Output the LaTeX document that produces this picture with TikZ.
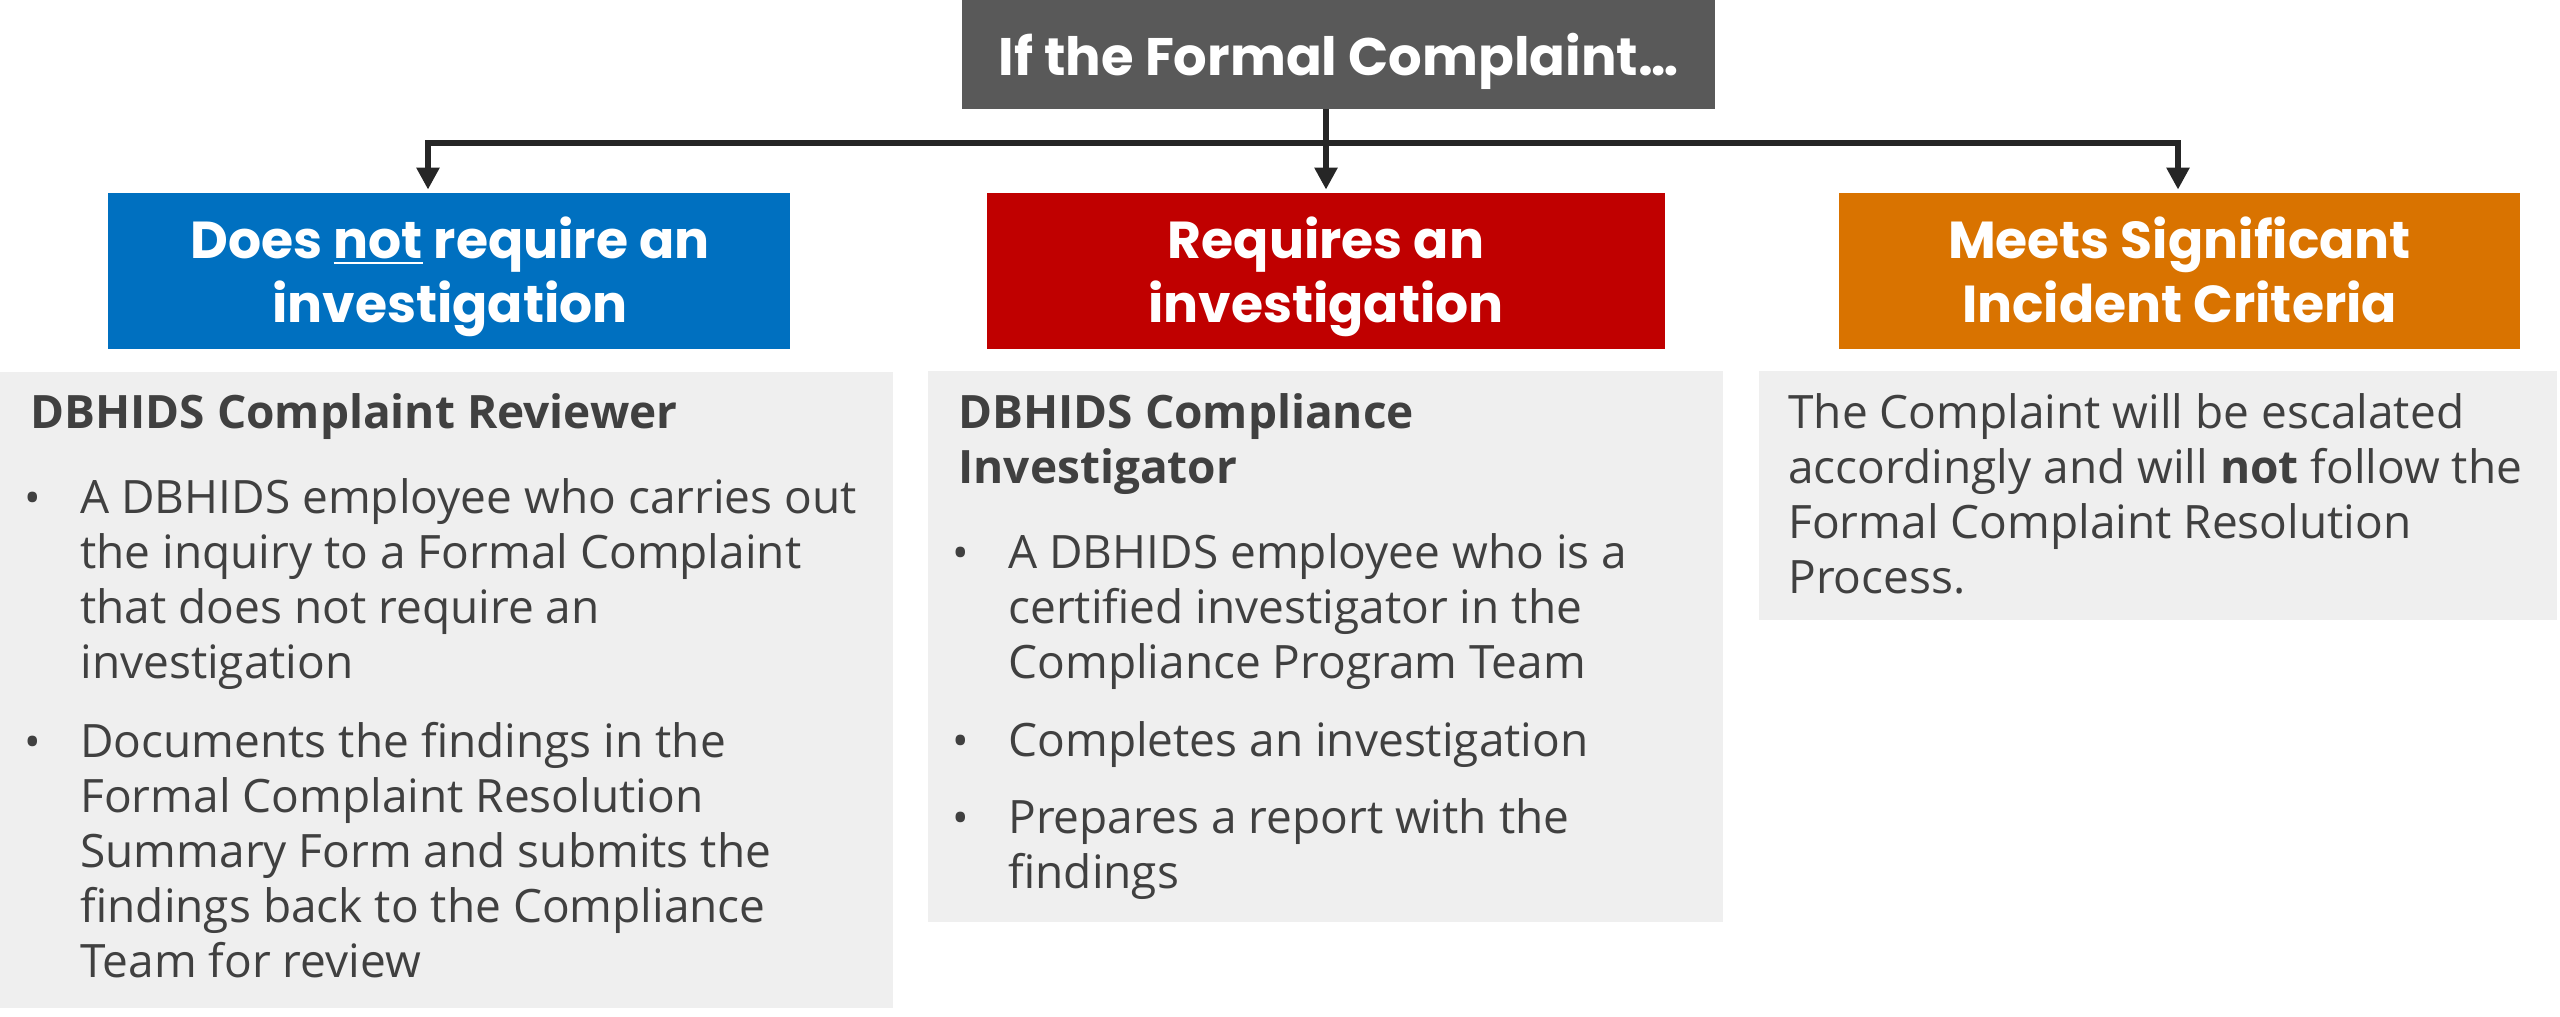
\documentclass[tikz,border=0pt]{standalone}
\usepackage{fontspec}
\setmainfont{Open Sans}
\newfontfamily\hdfont{Poppins}
\usetikzlibrary{arrows.meta}
\definecolor{topgray}{HTML}{595959}
\definecolor{dbblue}{HTML}{0070C0}
\definecolor{dbred}{HTML}{C00000}
\definecolor{dborange}{HTML}{D97300}
\definecolor{panel}{HTML}{EFEFEF}
\definecolor{txt}{HTML}{404040}
\definecolor{linec}{HTML}{262626}
\newcommand\myul[1]{\setbox0\hbox{#1}\rlap{\rule[-3.2pt]{\wd0}{1.3pt}}\box0\relax}
\tikzset{
  hbox/.style={inner sep=0, minimum height=78pt},
  panelbox/.style={fill=panel, inner sep=0},
  conn/.style={draw=linec, line width=3pt},
  toptxt/.style={font=\hdfont\bfseries\fontsize{26.4}{32}\selectfont, text=white, anchor=base, inner sep=0},
  htxt/.style={font=\hdfont\bfseries\fontsize{26}{32}\selectfont, text=white, anchor=base, inner sep=0, align=center},
  bhead/.style={font=\bfseries\fontsize{23}{27.5}\selectfont, text=txt, anchor=base west, inner sep=0, align=left},
  btxt/.style={font=\fontsize{23}{27.5}\selectfont, text=txt, anchor=base west, inner sep=0, align=left},
  bul/.style={font=\fontsize{22}{27.5}\selectfont, text=txt, anchor=base, inner sep=0},
}
\begin{document}
\begin{tikzpicture}[x=0.5pt,y=-0.5pt]
\useasboundingbox (0,0) rectangle (2560,1017);
% top box
\node[fill=topgray, inner sep=0, minimum width=376.5pt, minimum height=54.5pt] (top) at (1338.5,54.5) {};
\node[toptxt] (toptext) at (1338.5,75) {If the Formal Complaint…};
% category boxes
\node[hbox, fill=dbblue, minimum width=341pt] (blue) at (449,271) {};
\node[hbox, fill=dbred, minimum width=339pt] (red) at (1326,271) {};
\node[hbox, fill=dborange, minimum width=340.5pt] (orange) at (2179.5,271) {};
% (base anchor of a multi-line node = baseline of its last line)
\node[htxt] (bluetext) at (450,322) {Does \myul{not} require an\\investigation};
\node[htxt] (redtext) at (1326,322) {Requires an\\investigation};
\node[htxt] (orangetext) at (2179.5,322) {Meets Significant\\Incident Criteria};
% connectors
\coordinate (hl) at (428,143);
\coordinate (hr) at (2178,143);
\draw[conn, {Triangle[length=11pt,width=11pt]}-{Triangle[length=11pt,width=11pt]}, shorten <=1.5pt, shorten >=1.5pt]
  (hl |- blue.north) -- (hl) -- (hr) -- (hr |- orange.north);
\draw[conn, -{Triangle[length=11pt,width=11pt]}, shorten >=1.5pt] (top.south -| red.north) -- (red.north);
% panels
\node[panelbox, minimum width=446.5pt, minimum height=318pt] (p1) at (446.5,689.5) {};
\node[panelbox, minimum width=397.5pt, minimum height=275.5pt] (p2) at (1325.5,646.5) {};
\node[panelbox, minimum width=399pt, minimum height=124.5pt] (p3) at (2158,495.5) {};
% panel 1
\node[bhead] (p1h) at (30,428) {DBHIDS Complaint Reviewer};
\node[bul] (p1b1) at (33,513) {•};
\node[btxt] (p1t1) at (80,678) {A DBHIDS employee who carries out\\the inquiry to a Formal Complaint\\that does not require an\\investigation};
\node[bul] (p1b2) at (33,757) {•};
\node[btxt] (p1t2) at (80,977) {Documents the findings in the\\Formal Complaint Resolution\\Summary Form and submits the\\findings back to the Compliance\\Team for review};
% panel 2
\node[bhead] (p2h) at (958,483) {DBHIDS Compliance\\Investigator};
\node[bul] (p2b1) at (961,568) {•};
\node[btxt] (p2t1) at (1008,678) {A DBHIDS employee who is a\\certified investigator in the\\Compliance Program Team};
\node[bul] (p2b2) at (961,756) {•};
\node[btxt] (p2t2) at (1008,756) {Completes an investigation};
\node[bul] (p2b3) at (961,833) {•};
\node[btxt] (p2t3) at (1008,888) {Prepares a report with the\\findings};
% panel 3
\node[btxt] (p3t) at (1788,593) {The Complaint will be escalated\\accordingly and will \textbf{not} follow the\\Formal Complaint Resolution\\Process.};
\end{tikzpicture}
\end{document}
